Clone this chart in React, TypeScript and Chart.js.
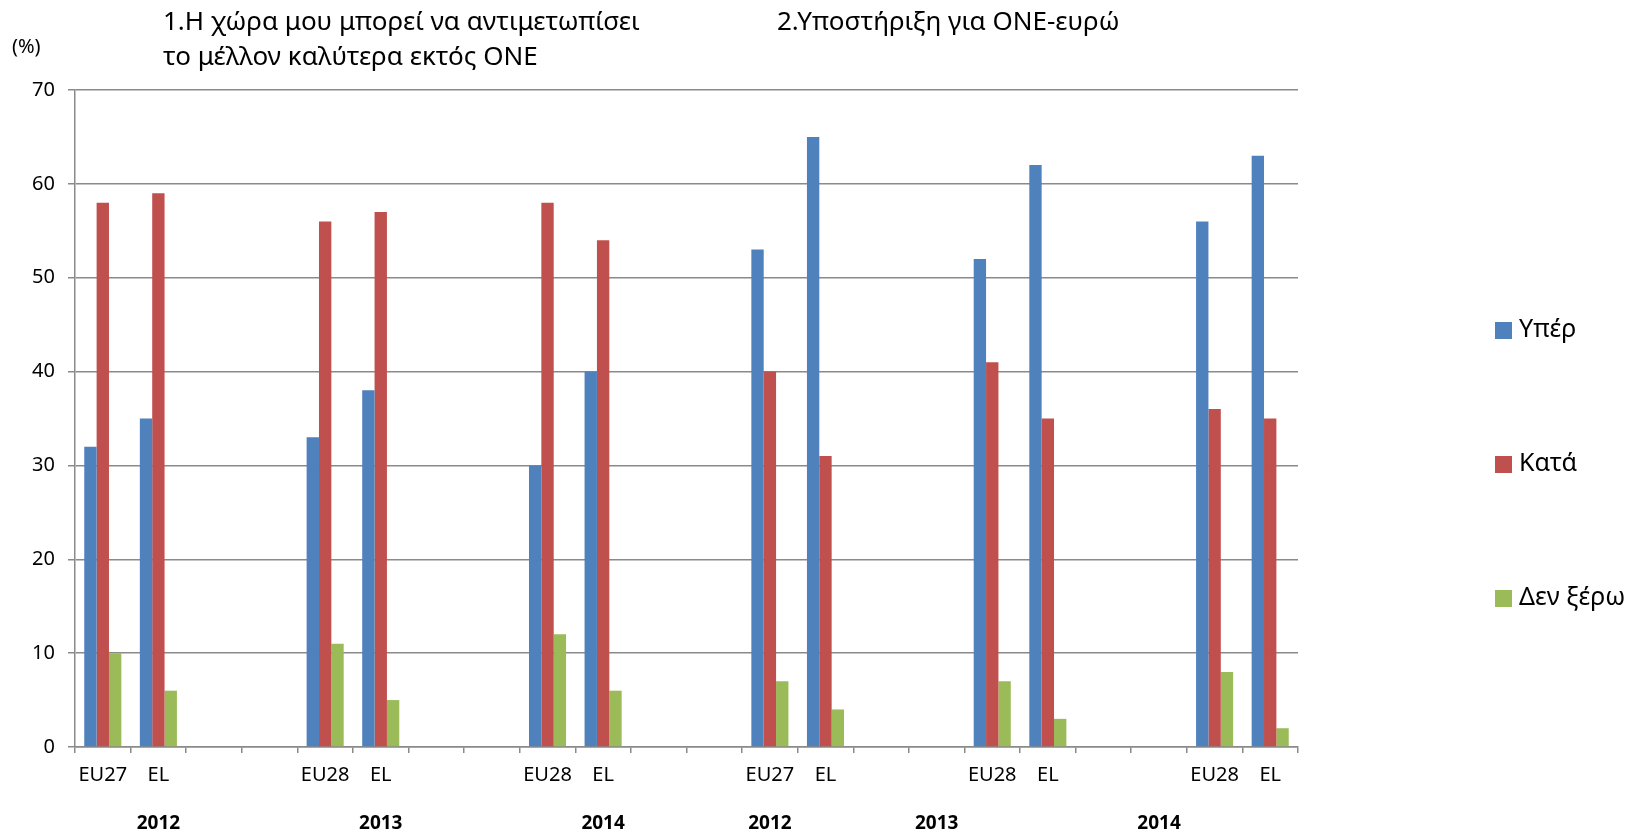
import React, { useEffect, useRef } from "react";
import { Chart, registerables } from "chart.js";

Chart.register(...registerables);

const categories = ["EU27", "EL", "", "", "EU28", "EL", "", "", "EU28", "EL", "", "", "EU27", "EL", "", "", "EU28", "EL", "", "", "EU28", "EL"];
const yearLabels = ["", "2012", "", "", "", "2013", "", "", "", "2014", "", "", "2012", "", "", "2013", "", "", "", "2014", "", ""];
const seriesNames = ["Υπέρ", "Κατά", "Δεν ξέρω"];
const seriesColors = ["#4F81BD", "#C0504D", "#9BBB59"];
const yperValues = [32, 35, null, null, 33, 38, null, null, 30, 40, null, null, 53, 65, null, null, 52, 62, null, null, 56, 63];
const kataValues = [58, 59, null, null, 56, 57, null, null, 58, 54, null, null, 40, 31, null, null, 41, 35, null, null, 36, 35];
const denXeroValues = [10, 6, null, null, 11, 5, null, null, 12, 6, null, null, 7, 4, null, null, 7, 3, null, null, 8, 2];
const yTicksMax = 70;
const titleLeft = ["1.Η χώρα μου μπορεί να αντιμετωπίσει", "το μέλλον καλύτερα εκτός ΟΝΕ"];
const titleRight = "2.Υποστήριξη για ΟΝΕ-ευρώ";
const unitLabel = "(%)";

const FONT = "'Noto Sans', 'DejaVu Sans', sans-serif";
const GRID = "#8a8a8a";

const legendPlugin = {
  id: "sideLegend",
  afterDraw(chart: any) {
    const ctx = chart.ctx;
    ctx.save();
    ctx.font = `25px ${FONT}`;
    ctx.textBaseline = "middle";
    ctx.textAlign = "left";
    chart.data.datasets.forEach((ds: any, i: number) => {
      const y = 330 + i * 134;
      ctx.fillStyle = ds.backgroundColor;
      ctx.fillRect(1495, y - 8, 17, 17);
      ctx.fillStyle = "#000";
      ctx.fillText(ds.label, 1519, y);
    });
    ctx.restore();
  },
};

export default function App() {
  const ref = useRef<HTMLCanvasElement>(null);
  useEffect(() => {
    if (!ref.current) return;
    const valueSets = [yperValues, kataValues, denXeroValues];
    const chart = new Chart(ref.current, {
      type: "bar",
      data: {
        labels: categories,
        datasets: seriesNames.map((name, i) => ({
          label: name,
          data: valueSets[i],
          backgroundColor: seriesColors[i],
          borderWidth: 0,
          categoryPercentage: 0.667,
          barPercentage: 1,
        })),
      },
      options: {
        responsive: false,
        animation: false,
        layout: { padding: { left: 0, right: 350, top: 90, bottom: 0 } },
        plugins: { legend: { display: false }, tooltip: { enabled: false } },
        scales: {
          y: {
            min: 0,
            max: yTicksMax,
            ticks: { stepSize: 10, color: "#000", font: { size: 20, family: FONT }, padding: 13 },
            grid: { color: GRID, lineWidth: 1.5, tickLength: 7 },
            border: { color: GRID, width: 1.5 },
            afterFit: (s: any) => { s.width = 75; },
          },
          x: {
            offset: true,
            ticks: { color: "#000", font: { size: 20, family: FONT }, autoSkip: false, maxRotation: 0, padding: 10 },
            grid: { drawOnChartArea: false, color: GRID, lineWidth: 1.5, tickLength: 6, offset: true },
            border: { color: GRID, width: 1.5 },
            afterFit: (s: any) => { s.height = 45; },
          },
          x2: {
            type: "category",
            position: "bottom",
            labels: yearLabels,
            offset: true,
            ticks: { color: "#000", font: { size: 19, family: FONT, weight: "bold" }, autoSkip: false, maxRotation: 0, padding: 20 },
            grid: { display: false, drawTicks: false },
            border: { display: false },
            afterFit: (s: any) => { s.height = 40; },
          },
        },
      } as any,
      plugins: [legendPlugin],
    });
    return () => chart.destroy();
  }, []);

  return (
    <div style={{ position: "fixed", left: 0, top: 0, width: 1648, height: 832, background: "#fff", fontFamily: FONT }}>
      <canvas ref={ref} width={1648} height={832} style={{ position: "absolute", left: 0, top: 0 }} />
      <div style={{ position: "absolute", left: 12, top: 34, fontSize: 20, lineHeight: "24px", color: "#000" }}>{unitLabel}</div>
      <div style={{ position: "absolute", left: 163, top: 3, fontSize: 26, lineHeight: "35px", color: "#000", whiteSpace: "nowrap" }}>
        {titleLeft.map((t, i) => (<div key={i}>{t}</div>))}
      </div>
      <div style={{ position: "absolute", left: 777, top: 3, fontSize: 26, lineHeight: "35px", color: "#000", whiteSpace: "nowrap" }}>{titleRight}</div>
    </div>
  );
}
